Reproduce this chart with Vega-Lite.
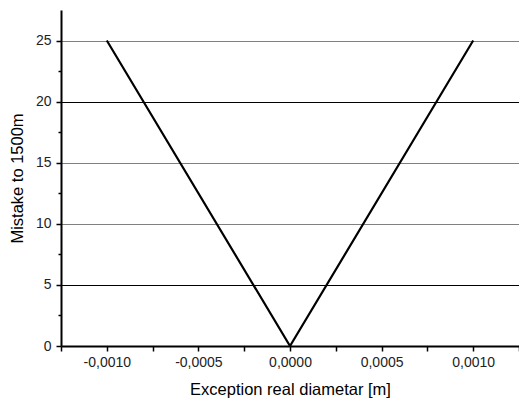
{
  "$schema": "https://vega.github.io/schema/vega-lite/v6.json",
  "width": 458,
  "height": 336,
  "autosize": "none",
  "padding": {"left": 61, "top": 10, "right": 0, "bottom": 53},
  "background": "white",
  "config": {
    "view": {"stroke": null},
    "font": "Liberation Sans",
    "axis": {
      "domainColor": "black",
      "domainWidth": 2,
      "tickColor": "black",
      "tickWidth": 1.5,
      "labelFont": "Liberation Sans",
      "labelFontSize": 14,
      "labelColor": "#222",
      "titleFont": "Liberation Sans",
      "titleFontSize": 16.5,
      "titleFontWeight": "normal",
      "titleColor": "black"
    }
  },
  "data": {
    "values": [
      {"x": -0.001, "y": 25},
      {"x": 0.0, "y": 0},
      {"x": 0.001, "y": 25}
    ]
  },
  "mark": {"type": "line", "color": "black", "strokeWidth": 2.2, "clip": true},
  "encoding": {
    "x": {
      "field": "x",
      "type": "quantitative",
      "scale": {"domain": [-0.00125, 0.00125], "nice": false, "zero": false},
      "axis": {
        "title": "Exception real diametar [m]",
        "values": [-0.00125, -0.001, -0.00075, -0.0005, -0.00025, 0, 0.00025, 0.0005, 0.00075, 0.001, 0.00125],
        "grid": false,
        "tickSize": 5,
        "labelPadding": 4,
        "titlePadding": 12,
        "labelExpr": "abs(datum.value*2000 - round(datum.value*2000)) < 0.000001 && abs(datum.value) < 0.0011 ? (datum.value < -0.0000001 ? '-' : '') + replace(format(abs(datum.value), '.4f'), '.', ',') : ''"
      }
    },
    "y": {
      "field": "y",
      "type": "quantitative",
      "scale": {"domain": [0, 27.5], "nice": false},
      "axis": {
        "title": "Mistake to 1500m",
        "values": [0, 2.5, 5, 7.5, 10, 12.5, 15, 17.5, 20, 22.5, 25],
        "labelExpr": "datum.value % 5 == 0 ? format(datum.value, 'd') : ''",
        "tickSize": {"condition": {"test": "datum.value % 5 == 0", "value": 5}, "value": 3},
        "labelPadding": 5,
        "titlePadding": 10,
        "grid": true,
        "gridColor": {"condition": {"test": "datum.value == 20 || datum.value == 5", "value": "#000000"}, "value": "#808080"},
        "gridOpacity": {"condition": {"test": "datum.value % 5 == 0 && datum.value > 0", "value": 1}, "value": 0},
        "gridWidth": 1
      }
    }
  }
}
